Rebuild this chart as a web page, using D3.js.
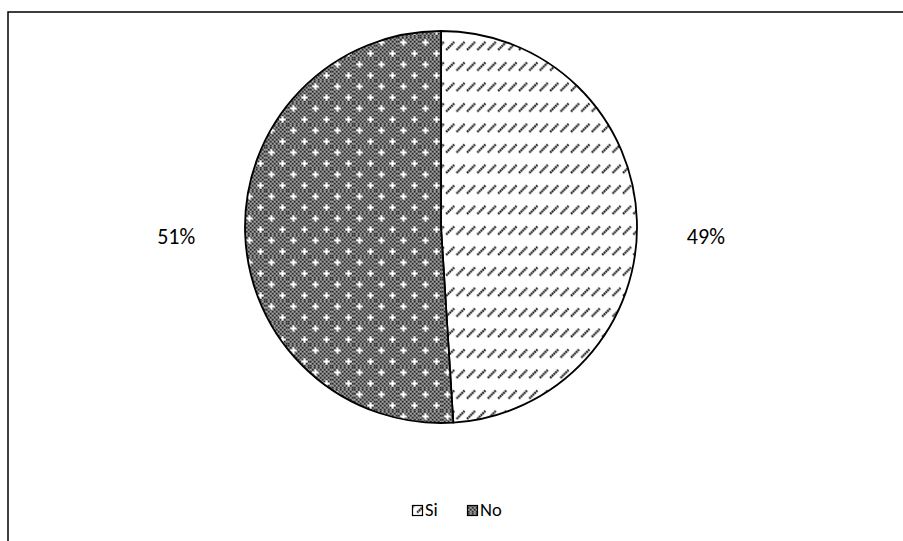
<!DOCTYPE html>
<html>
<head>
<meta charset="utf-8">
<script src="https://cdn.jsdelivr.net/npm/d3@7"></script>
<style>
  html, body { margin: 0; padding: 0; background: #fff; }
  svg { display: block; }
</style>
</head>
<body>
<svg id="chart" width="903" height="541"></svg>
<script>
// Survey answers
const categories = ["Si", "No"];
const shares = [49, 51];
const labels = ["49%", "51%"];
const patternIds = ["pat-si", "pat-no"];

const W = 903, H = 541;
const svg = d3.select("#chart");
const defs = svg.append("defs");

// Dashed upward diagonal hatch
const pSi = defs.append("pattern")
  .attr("id", "pat-si")
  .attr("patternUnits", "userSpaceOnUse")
  .attr("width", 10.4).attr("height", 20.5)
  .attr("x", 441).attr("y", 34);
pSi.append("rect").attr("width", 10.4).attr("height", 20.5).attr("fill", "#fff");
pSi.append("line")
  .attr("x1", 1).attr("y1", 14.5).attr("x2", 9).attr("y2", 6.5)
  .attr("stroke", "#1a1a1a").attr("stroke-width", 2.2)
  .attr("stroke-dasharray", "1.8 0.6");

// Dithered grey with white crosses
const pNo = defs.append("pattern")
  .attr("id", "pat-no")
  .attr("patternUnits", "userSpaceOnUse")
  .attr("width", 22).attr("height", 22)
  .attr("x", 243).attr("y", 30);
pNo.append("rect").attr("width", 22).attr("height", 22).attr("fill", "#7e7e7e");
for (let gx = 0; gx < 22; gx += 2) {
  for (let gy = 0; gy < 22; gy += 2) {
    if (((gx + gy) / 2) % 2 === 0) {
      pNo.append("rect").attr("x", gx).attr("y", gy)
        .attr("width", 1.5).attr("height", 1.5).attr("fill", "#2c2c2c");
    } else {
      pNo.append("rect").attr("x", gx).attr("y", gy)
        .attr("width", 1).attr("height", 1).attr("fill", "#a8a8a8");
    }
  }
}
[[5.5, 5.5], [16.5, 16.5]].forEach(([cx, cy]) => {
  pNo.append("rect").attr("x", cx - 3.2).attr("y", cy - 1)
    .attr("width", 6.4).attr("height", 2).attr("fill", "#fff");
  pNo.append("rect").attr("x", cx - 1).attr("y", cy - 3.2)
    .attr("width", 2).attr("height", 6.4).attr("fill", "#fff");
});

// Chart frame (its right and bottom edges run past the page)
svg.append("rect")
  .attr("x", 8).attr("y", 12)
  .attr("width", W + 40).attr("height", H + 40)
  .attr("fill", "none").attr("stroke", "#000").attr("stroke-width", 1.5);

const cx = 441, cy = 227, R = 196;
const pie = d3.pie().sort(null).value(d => d)(shares);
const arc = d3.arc().innerRadius(0).outerRadius(R);
const labelArc = d3.arc().innerRadius(265).outerRadius(265);

const g = svg.append("g").attr("transform", `translate(${cx},${cy})`);
g.selectAll("path.slice")
  .data(pie)
  .join("path")
  .attr("class", "slice")
  .attr("d", arc)
  .attr("fill", (d, i) => `url(#${patternIds[i]})`)
  .attr("stroke", "#000")
  .attr("stroke-width", 1.8)
  .attr("stroke-linejoin", "round");

g.selectAll("text.lbl")
  .data(pie)
  .join("text")
  .attr("class", "lbl")
  .attr("x", d => labelArc.centroid(d)[0])
  .attr("y", 17)
  .attr("text-anchor", "middle")
  .attr("font-family", "Carlito, Lato, 'Open Sans', sans-serif")
  .attr("font-size", 22)
  .attr("fill", "#000")
  .text((d, i) => labels[i]);

// Legend
const legend = svg.append("g").attr("transform", "translate(412,505)");
const legendX = d3.scaleOrdinal().domain(categories).range([0, 55]);
const items = legend.selectAll("g.item")
  .data(categories)
  .join("g")
  .attr("class", "item")
  .attr("transform", d => `translate(${legendX(d)},0)`);
items.append("rect")
  .attr("x", 0.5).attr("y", 0.5)
  .attr("width", 10).attr("height", 10)
  .attr("fill", (d, i) => `url(#${patternIds[i]})`)
  .attr("stroke", "#000").attr("stroke-width", 1.2);
items.append("text")
  .attr("x", 13).attr("y", 11)
  .attr("font-family", "Carlito, Lato, 'Open Sans', sans-serif")
  .attr("font-size", 18.5)
  .attr("fill", "#000")
  .text(d => d);
</script>
</body>
</html>
